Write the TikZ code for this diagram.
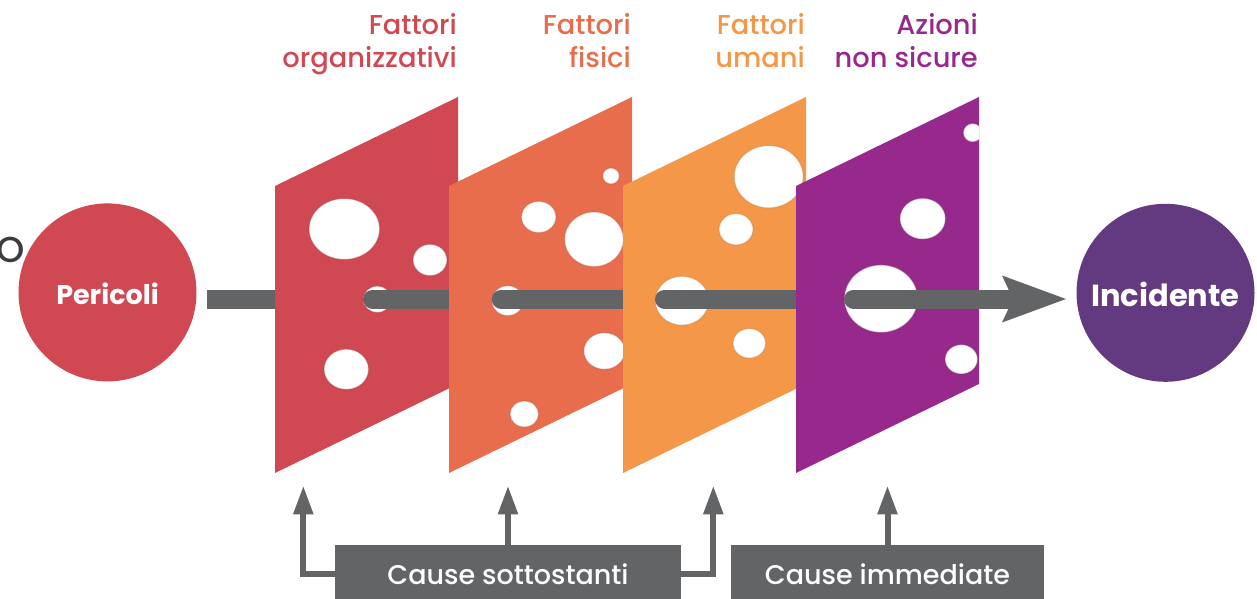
\documentclass[tikz,border=0pt]{standalone}
\usepackage{fontspec}
\setmainfont{Poppins}
\IfFontExistsTF{Poppins Medium}
  {\newfontfamily\medfont{Poppins Medium}}
  {\newfontfamily\medfont{Poppins}}
\usetikzlibrary{arrows.meta}

\definecolor{cRed}{HTML}{CF4852}
\definecolor{cOrange}{HTML}{E86D4D}
\definecolor{cAmber}{HTML}{F59748}
\definecolor{cPurple}{HTML}{98298C}
\definecolor{cPlum}{HTML}{633980}
\definecolor{cGray}{HTML}{636466}
\definecolor{cInk}{HTML}{3D3D3F}

\tikzset{
  hole/.style={fill=white, draw=#1!75!black, draw opacity=0.35, line width=1.2pt},
  beam/.style={draw=cGray, line width=19pt, line cap=round},
  tag/.style={align=right, inner sep=0pt, anchor=north east,
    font=\medfont\fontsize{27.3}{32.7}\selectfont},
  bubble/.style={circle, fill=#1, text=white, minimum size=178pt, inner sep=0pt},
  causebox/.style={fill=cGray, text=white, inner sep=0pt, minimum height=58pt,
    font=\medfont\fontsize{27}{32}\selectfont},
  riser/.style={draw=cGray, line width=6pt,
    -{Triangle[length=27.6pt, width=20.7pt, line width=0pt]}},
}

\begin{document}
\begin{tikzpicture}[x=1pt, y=-1pt]
\useasboundingbox (0,0) rectangle (1257,599);

% start and end of the chain
\node[cInk, anchor=base east, inner sep=0pt, font=\medfont\fontsize{36}{40}\selectfont] (lead) at (25,262.5) {O};
\node[bubble=cRed, font=\bfseries\fontsize{27}{32}\selectfont, text height=24pt, text depth=0pt]
  (pericoli) at (107.5,292.4) {Pericoli};
\node[bubble=cPlum, font=\bfseries\fontsize{30.5}{36}\selectfont, text height=27pt, text depth=0pt]
  (incidente) at (1165.5,292.8) {Incidente};

% beam entering the first slice
\coordinate (stubend) at (285,299);
\draw[cGray, line width=19pt] ([xshift=10.3pt]pericoli.east |- stubend) -- (stubend);

% slice 1: organisational factors
\fill[cRed] (275,186) -- (458,97) -- (458,384) -- (275,473) -- cycle;
\fill[hole=cRed] (344.3,229) ellipse [x radius=35.3pt, y radius=30.5pt];
\fill[hole=cRed] (430,260) ellipse [x radius=17pt, y radius=15.7pt];
\fill[hole=cRed] (377.3,299.3) ellipse [x radius=14.2pt, y radius=13.2pt];
\fill[hole=cRed] (346.3,369.3) ellipse [x radius=22.3pt, y radius=20.2pt];
\coordinate (b1) at (372.5,299);
\coordinate (e1) at (460,299);
\draw[beam] (b1) -- (e1);

% slice 2: physical factors
\fill[cOrange] (449,186) -- (632,97) -- (632,384) -- (449,473) -- cycle;
\fill[hole=cOrange] (611,176) ellipse [x radius=8.3pt, y radius=8pt];
\fill[hole=cOrange] (538.7,217) ellipse [x radius=17.3pt, y radius=15.7pt];
\fill[hole=cOrange] (594,239.3) ellipse [x radius=29.5pt, y radius=27.3pt];
\fill[hole=cOrange] (507.7,300.7) ellipse [x radius=15.8pt, y radius=15pt];
\fill[hole=cOrange] (604.3,351) ellipse [x radius=20.5pt, y radius=18.3pt];
\fill[hole=cOrange] (524.3,414) ellipse [x radius=14.3pt, y radius=13pt];
\coordinate (b2) at (501.2,299);
\coordinate (e2) at (633,299);
\draw[beam] (b2) -- (e2);

% slice 3: human factors
\fill[cAmber] (623,186) -- (806,97) -- (806,384) -- (623,473) -- cycle;
\fill[hole=cAmber] (768.7,176.7) ellipse [x radius=34.5pt, y radius=31.2pt];
\fill[hole=cAmber] (736,229.3) ellipse [x radius=17pt, y radius=15.7pt];
\fill[hole=cAmber] (682,300.7) ellipse [x radius=26.7pt, y radius=24.5pt];
\fill[hole=cAmber] (749.3,343.3) ellipse [x radius=16.3pt, y radius=14.8pt];
\coordinate (b3) at (664.5,299);
\coordinate (e3) at (806,299);
\draw[beam] (b3) -- (e3);

% slice 4: unsafe acts
\fill[cPurple] (796,186) -- (979,97) -- (979,384) -- (796,473) -- cycle;
\begin{scope}
  \clip (796,186) -- (979,97) -- (979,384) -- (796,473) -- cycle;
  \fill[hole=cPurple] (972.7,132.7) ellipse [x radius=9.5pt, y radius=9.3pt];
\end{scope}
\fill[hole=cPurple] (922.7,218.7) ellipse [x radius=22.8pt, y radius=20.5pt];
\fill[hole=cPurple] (881,298.7) ellipse [x radius=36.7pt, y radius=33.8pt];
\fill[hole=cPurple] (961.3,359.3) ellipse [x radius=16.3pt, y radius=14.7pt];
\coordinate (b4) at (853.5,299);
\coordinate (tip) at (1066,299);
\draw[beam, -{Stealth[length=64pt, width=47pt, inset=11pt, line width=0pt]}] (b4) -- (tip);

% slice titles
\node[tag, text=cRed] (t1) at (457,13.3) {Fattori\\organizzativi};
\node[tag, text=cOrange] (t2) at (631,13.3) {Fattori\\fisici};
\node[tag, text=cAmber] (t3) at (805,13.3) {Fattori\\umani};
\node[tag, text=cPurple] (t4) at (978,13.3) {Azioni\\non sicure};

% cause groups
\node[causebox, minimum width=346pt] (sotto) at (508,574) {Cause sottostanti};
\node[causebox, minimum width=313pt] (immed) at (887.5,574) {Cause immediate};

\coordinate (u1) at (303.3,486.7);
\coordinate (u2) at (508,486.7);
\coordinate (u3) at (713.3,486.7);
\coordinate (u4) at (887.5,486.7);
\draw[riser] (sotto.west) -| (u1);
\draw[riser] (sotto.north) -- (u2);
\draw[riser] (sotto.east) -| (u3);
\draw[riser] (immed.north) -- (u4);
\end{tikzpicture}
\end{document}
